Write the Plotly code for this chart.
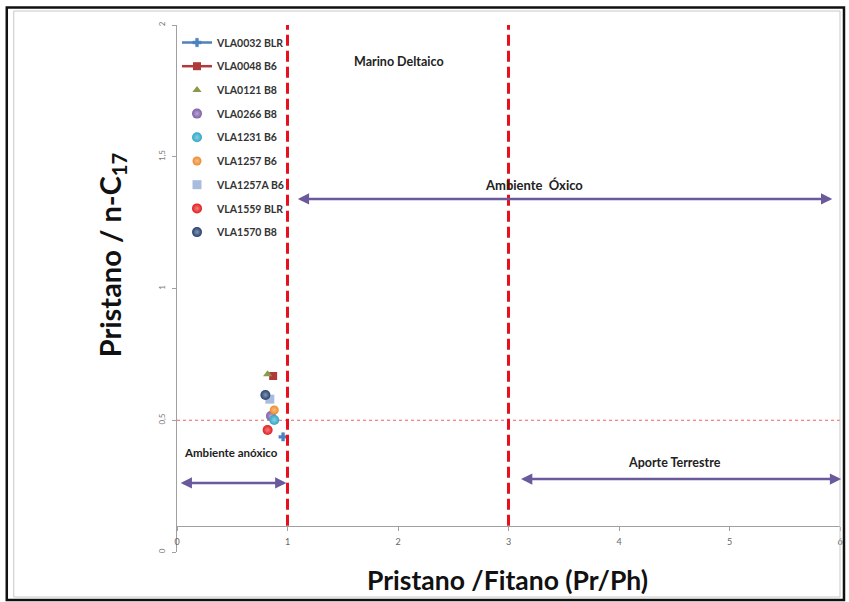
import plotly.graph_objects as go

# Sample identifiers and their Pr/Ph and Pr/n-C17 ratios
samples = ["VLA0032 BLR", "VLA0048 B6", "VLA0121 B8", "VLA0266 B8", "VLA1231 B6",
           "VLA1257 B6", "VLA1257A B6", "VLA1559 BLR", "VLA1570 B8"]
pr_ph = [0.96, 0.87, 0.82, 0.85, 0.88, 0.88, 0.84, 0.82, 0.80]
pr_nc17 = [0.437, 0.668, 0.675, 0.516, 0.501, 0.539, 0.580, 0.463, 0.596]

colors = ["#4F81BD", "#B03A3A", "#8A9A4B", "#7D5FA8", "#2FA8C8",
          "#EE8A2A", "#A8BCDD", "#E41B1B", "#24406E"]
symbols = ["cross", "square", "triangle-up", "circle", "circle",
           "circle", "square", "circle", "circle"]
modes = ["lines+markers", "lines+markers"] + ["markers"] * 7
sizes = [7, 8, 8, 10, 10, 9, 9, 10, 10]

# Environment boundaries and the labelled ranges
boundaries = [1, 3]
reference_ratio = 0.5
region_labels = ["Marino Deltaico", "Ambiente\u00a0 Óxico", "Ambiente anóxico", "Aporte Terrestre"]
region_label_x = [2.01, 3.23, 0.49, 4.5]
region_label_y = [1.863, 1.393, 0.376, 0.338]
region_label_size = [12.5, 13, 11.5, 12.5]
range_arrows = [  # (x start, x end, y)
    (1.08, 5.93, 1.34),
    (0.02, 0.99, 0.262),
    (3.10, 6.01, 0.277),
]

W, H = 849, 602
ML, MR, MT, MB = 177, 6, 25, 50
PW, PH = W - ML - MR, H - MT - MB


def px_x(p):
    return (p - ML) / PW


def px_y(p):
    return (H - MB - p) / PH


def tint(hex_color, amount):
    r, g, b = (int(hex_color[i:i + 2], 16) for i in (1, 3, 5))
    mix = lambda c: int(c + (255 - c) * amount)
    return "rgb(%d,%d,%d)" % (mix(r), mix(g), mix(b))


fig = go.Figure()

for i, name in enumerate(samples):
    marker = dict(color=colors[i], symbol=symbols[i], size=sizes[i],
                  line=dict(width=0))
    if symbols[i] == "circle":
        marker["gradient"] = dict(type="radial", color=tint(colors[i], 0.45))
    if symbols[i] == "cross":
        marker["line"] = dict(width=0.5, color=colors[i])
    fig.add_trace(go.Scatter(
        x=[pr_ph[i]], y=[pr_nc17[i]], name="<b>" + name + "</b>",
        mode=modes[i], marker=marker,
        line=dict(color=colors[i], width=2.5),
        legendgroup=name,
    ))

shapes = []
for b in boundaries:
    shapes.append(dict(type="line", xref="x", yref="y", x0=b, x1=b, y0=0.1, y1=2,
                       line=dict(color="#E8101C", width=3, dash="11px,5px"), layer="above"))
shapes.append(dict(type="line", xref="x", yref="y", x0=0, x1=6,
                   y0=reference_ratio, y1=reference_ratio,
                   line=dict(color="#F06060", width=1, dash="3px,3px"), layer="below"))
# chart frame
shapes.append(dict(type="rect", xref="paper", yref="paper",
                   x0=px_x(13), x1=px_x(843), y0=px_y(597), y1=px_y(11),
                   line=dict(color="#C8C8C8", width=1)))
shapes.append(dict(type="rect", xref="paper", yref="paper",
                   x0=px_x(6), x1=px_x(847), y0=px_y(600), y1=px_y(7.5),
                   line=dict(color="#111111", width=2.5)))

annotations = []
for t, x, y, s in zip(region_labels, region_label_x, region_label_y, region_label_size):
    annotations.append(dict(x=x, y=y, xref="x", yref="y", text="<b>" + t + "</b>",
                            xanchor="center", yanchor="middle",
                            showarrow=False, font=dict(family="Lato", size=s, color="#222222")))
for x0, x1, y in range_arrows:
    annotations.append(dict(x=x1, y=y, ax=x0, ay=y, xref="x", yref="y", axref="x", ayref="y",
                            text="", showarrow=True, arrowside="end+start",
                            arrowhead=2, startarrowhead=2, arrowsize=0.9, startarrowsize=0.9,
                            arrowwidth=2.5, arrowcolor="#6B5A9B"))
annotations.append(dict(x=px_x(112), y=px_y(255), xref="paper", yref="paper",
                        xanchor="center", yanchor="middle",
                        text="<b>Pristano / n-C<sub>17</sub></b>", textangle=-90,
                        showarrow=False, font=dict(family="Lato", size=29, color="#111111")))
annotations.append(dict(x=px_x(509), y=px_y(580), xref="paper", yref="paper",
                        xanchor="center", yanchor="middle",
                        text="<b>Pristano /Fitano (Pr/Ph)</b>",
                        showarrow=False, font=dict(family="Lato", size=26.5, color="#111111")))

fig.update_layout(
    width=W, height=H,
    margin=dict(l=ML, r=MR, t=MT, b=MB),
    paper_bgcolor="white", plot_bgcolor="white",
    separators=",.",
    font=dict(family="Lato", color="#666666"),
    showlegend=True,
    legend=dict(x=px_x(177), y=px_y(28), xanchor="left", yanchor="top",
                font=dict(family="Lato", size=10.5, color="#333333"),
                tracegroupgap=4.7, bgcolor="rgba(0,0,0,0)", itemwidth=30),
    shapes=shapes, annotations=annotations,
    xaxis=dict(range=[0, 6], tickvals=[0, 1, 2, 3, 4, 5, 6], showgrid=False, zeroline=False,
               showline=True, linecolor="#A0A0A0", linewidth=1,
               ticks="outside", ticklen=4, tickcolor="#A0A0A0",
               anchor="free", position=0.05, ticklabelstandoff=4,
               tickfont=dict(family="Lato", size=9, color="#666666")),
    yaxis=dict(range=[0, 2], tickvals=[0, 0.5, 1, 1.5, 2], showgrid=False, zeroline=False,
               showline=True, linecolor="#A0A0A0", linewidth=1,
               ticks="outside", ticklen=4, tickcolor="#A0A0A0", tickangle=-90,
               ticklabelstandoff=4,
               tickfont=dict(family="Lato", size=8, color="#777777")),
)

fig.write_html("out.html")
